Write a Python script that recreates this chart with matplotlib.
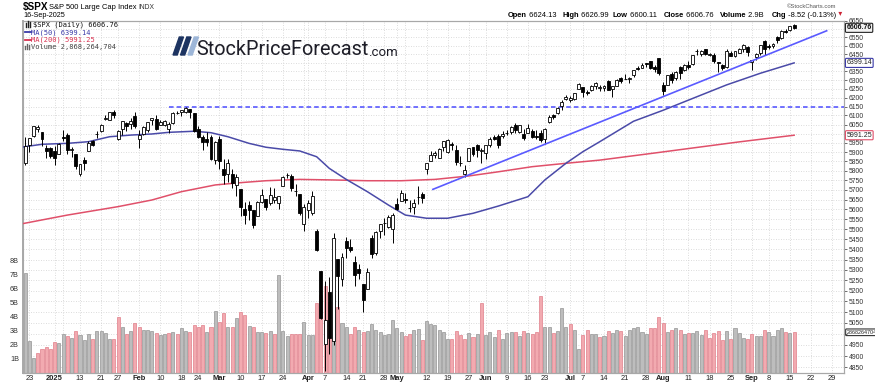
import matplotlib
matplotlib.use("Agg")
import matplotlib.pyplot as plt
import matplotlib.transforms as mtransforms
from matplotlib.patches import Polygon
from matplotlib.lines import Line2D
from matplotlib.ticker import NullLocator
import numpy as np

# ---- data: daily $SPX, index 0 = 19-Dec-2024 ... 183 = 16-Sep-2025 ----
opens = [
    5912.7, 5842.0, 5940.3, 5984.6, 6024.9, 6006.2, 5920.7, 5919.7,
    5903.3, 5891.1, 5982.8, 5993.3, 5910.7, 5890.7, 5782.3, 5859.4, 5905.2, 5961.3, 5995.2, 6014.1,
    6081.4, 6076.3, 6121.4, 5969.0, 6026.0, 6057.7, 6050.8, 6096.8,
    5969.7, 5998.1, 6020.5, 6072.2, 6083.1, 6046.4, 6049.3, 6025.1, 6060.6, 6115.5, 6121.6, 6117.8,
    6134.5, 6114.1, 6026.7, 5982.7, 5970.9, 5981.9, 5856.7,
    5968.3, 5812.0, 5781.4, 5785.9, 5726.0, 5705.4, 5603.7, 5624.8, 5594.5, 5563.9, 5635.6, 5654.5,
    5632.4, 5646.9, 5630.7, 5718.1, 5775.9, 5771.7, 5695.6, 5679.9, 5527.9,
    5597.5, 5580.8, 5492.7, 5292.1, 4953.8, 5193.6, 4965.3, 5353.2, 5255.6, 5442.0, 5412.0, 5335.8,
    5305.5, 5232.9, 5207.7, 5455.8, 5381.4, 5489.7, 5529.2, 5508.9, 5499.4,
    5625.1, 5645.0, 5655.3, 5606.4, 5614.4, 5663.8, 5679.6, 5807.7, 5854.0, 5884.6, 5870.1, 5929.1,
    5902.9, 5944.7, 5910.2, 5841.3, 5781.9, 5854.1, 5925.5, 5939.9, 5903.7,
    5896.7, 5938.6, 5978.9, 5985.7, 5987.1, 6004.6, 6009.9, 6049.4, 6009.9, 5996.7, 6004.0, 6012.4,
    5987.9, 6004.4, 5969.7, 6061.2, 6104.3, 6112.1, 6150.7, 6193.4,
    6187.3, 6193.3, 6246.5, 6259.0, 6233.0, 6245.1, 6266.5, 6255.7, 6255.2, 6295.3, 6250.9, 6263.4,
    6309.6, 6304.7, 6306.6, 6326.9, 6368.6, 6370.0, 6397.7, 6409.4, 6377.6, 6427.0,
    6271.7, 6271.7, 6336.0, 6309.0, 6374.0, 6357.3, 6389.7, 6395.2, 6466.9, 6453.9, 6478.9, 6445.0,
    6446.6, 6404.8, 6386.7, 6375.6, 6457.7, 6440.0, 6457.2, 6483.3, 6494.9,
    6401.5, 6436.2, 6456.6, 6529.6, 6499.5, 6500.6, 6550.2, 6547.1, 6590.2, 6594.9, 6624.1,
]
highs = [
    5935.5, 5982.1, 5978.3, 6040.1, 6049.8, 6006.2, 5940.8, 5929.7,
    5935.1, 5949.3, 6021.0, 6000.7, 5927.9, 5890.7, 5838.8, 5871.9, 5960.6, 5964.7, 6014.0, 6051.5,
    6100.8, 6118.7, 6128.2, 6017.2, 6069.1, 6062.8, 6086.6, 6120.9,
    6022.1, 6042.5, 6062.9, 6084.0, 6101.3, 6073.4, 6076.3, 6063.0, 6116.9, 6127.5, 6129.6, 6147.4,
    6134.5, 6114.8, 6043.7, 5992.7, 6009.8, 5993.7, 5959.4,
    5986.1, 5865.1, 5860.6, 5812.1, 5783.0, 5705.4, 5636.3, 5642.2, 5597.8, 5645.3, 5703.5, 5654.5,
    5715.3, 5711.2, 5670.8, 5775.1, 5786.0, 5783.6, 5732.3, 5679.9, 5627.6,
    5650.6, 5695.3, 5499.5, 5292.1, 5246.7, 5267.5, 5481.3, 5353.2, 5381.5, 5459.5, 5450.4, 5367.2,
    5328.3, 5232.9, 5309.6, 5469.7, 5489.4, 5528.1, 5553.7, 5572.0, 5581.8,
    5658.9, 5700.7, 5683.0, 5649.8, 5654.2, 5720.1, 5691.7, 5844.2, 5906.6, 5906.0, 5924.2, 5958.6,
    5968.6, 5953.1, 5939.7, 5878.1, 5829.5, 5924.3, 5929.0, 5943.1, 5922.1,
    5937.4, 5981.4, 5990.5, 5999.7, 6016.9, 6021.3, 6043.0, 6059.4, 6045.4, 6026.2, 6050.8, 6023.3,
    6018.2, 6018.2, 6028.8, 6101.8, 6108.5, 6146.5, 6187.7, 6215.1,
    6210.8, 6227.6, 6284.7, 6262.7, 6242.7, 6269.1, 6290.2, 6269.4, 6272.4, 6302.0, 6265.9, 6304.1,
    6315.6, 6336.1, 6316.1, 6360.6, 6381.3, 6395.8, 6401.1, 6409.4, 6389.7, 6427.0,
    6287.0, 6330.0, 6346.9, 6350.7, 6379.2, 6395.2, 6409.3, 6446.0, 6480.3, 6475.0, 6481.3, 6455.4,
    6456.7, 6404.8, 6393.6, 6481.3, 6466.9, 6468.0, 6486.2, 6508.2, 6495.9,
    6416.6, 6454.3, 6502.5, 6532.7, 6508.4, 6515.4, 6556.0, 6592.9, 6600.2, 6618.3, 6627.0,
]
lows = [
    5866.1, 5832.3, 5902.6, 5981.4, 6007.4, 5932.9, 5869.2, 5868.9,
    5829.5, 5888.7, 5960.0, 5890.7, 5874.8, 5809.8, 5773.3, 5805.9, 5905.2, 5930.1, 5976.3, 6006.9,
    6076.3, 6074.7, 6088.7, 5962.9, 5994.0, 6012.9, 6027.5, 6030.9,
    5923.9, 5990.9, 6007.1, 6046.8, 6020.0, 6044.8, 6042.3, 6003.0, 6051.0, 6107.6, 6099.5, 6111.2,
    6084.6, 6008.6, 5977.8, 5908.5, 5932.7, 5858.8, 5837.7,
    5810.9, 5732.6, 5742.4, 5711.6, 5666.3, 5564.0, 5528.4, 5546.1, 5504.7, 5563.9, 5631.1, 5597.8,
    5622.2, 5632.1, 5603.1, 5718.1, 5763.1, 5695.5, 5670.9, 5572.4, 5488.7,
    5558.5, 5571.5, 5390.8, 5069.9, 4835.0, 4910.4, 4948.4, 5115.3, 5220.8, 5358.0, 5386.4, 5220.8,
    5255.6, 5101.6, 5207.7, 5356.2, 5372.0, 5455.9, 5468.6, 5505.7, 5433.2,
    5597.4, 5644.1, 5634.5, 5589.1, 5578.6, 5626.8, 5635.1, 5781.9, 5853.3, 5868.9, 5867.4, 5907.4,
    5895.7, 5909.3, 5830.3, 5825.8, 5767.4, 5854.1, 5881.4, 5873.8, 5843.7,
    5861.4, 5929.0, 5966.1, 5921.2, 5978.6, 5994.2, 6000.3, 6002.3, 6003.9, 5963.2, 6004.0, 5974.8,
    5971.9, 5952.6, 5943.2, 6059.6, 6080.1, 6107.3, 6132.4, 6186.5,
    6178.0, 6188.3, 6246.5, 6201.9, 6217.3, 6236.2, 6251.6, 6237.6, 6236.6, 6241.6, 6201.6, 6263.4,
    6285.3, 6303.8, 6281.7, 6317.5, 6360.6, 6368.5, 6375.3, 6363.8, 6346.1, 6327.0,
    6212.7, 6271.7, 6284.3, 6302.3, 6307.9, 6352.3, 6364.1, 6385.8, 6445.0, 6441.1, 6447.8, 6437.0,
    6400.2, 6343.9, 6360.7, 6371.0, 6438.9, 6431.7, 6455.5, 6465.6, 6441.2,
    6360.6, 6415.0, 6445.9, 6443.1, 6482.2, 6489.3, 6516.5, 6542.3, 6578.7, 6590.3, 6600.1,
]
closes = [
    5867.1, 5930.9, 5974.1, 6040.0, 6037.6, 5970.8, 5906.9, 5881.6,
    5868.6, 5942.5, 5975.4, 5909.0, 5918.3, 5827.0, 5836.2, 5842.9, 5949.9, 5937.3, 5996.7, 6049.2,
    6086.4, 6118.7, 6101.2, 6012.3, 6067.7, 6039.3, 6071.2, 6040.5,
    5994.6, 6037.9, 6061.5, 6083.6, 6026.0, 6066.4, 6068.5, 6052.0, 6115.1, 6114.6, 6129.6, 6144.2,
    6117.5, 6013.1, 5983.3, 5955.3, 5956.1, 5861.6, 5954.5,
    5849.7, 5778.2, 5842.6, 5738.5, 5770.2, 5614.6, 5572.1, 5599.3, 5521.5, 5638.9, 5675.1, 5614.7,
    5675.3, 5662.9, 5667.6, 5767.6, 5776.7, 5712.2, 5693.3, 5580.9, 5611.9,
    5633.1, 5671.0, 5396.5, 5074.1, 5062.3, 4982.8, 5456.9, 5268.1, 5363.4, 5406.0, 5396.6, 5275.7,
    5282.7, 5158.2, 5287.8, 5375.9, 5484.8, 5525.2, 5528.8, 5560.8, 5569.1,
    5604.1, 5686.7, 5650.4, 5606.9, 5631.3, 5663.9, 5659.9, 5844.2, 5886.6, 5892.6, 5916.9, 5958.4,
    5963.6, 5940.5, 5844.6, 5842.0, 5802.8, 5921.5, 5888.6, 5912.2, 5911.7,
    5935.9, 5970.4, 5970.8, 5939.3, 6000.4, 6005.9, 6038.8, 6022.2, 6045.3, 5977.0, 6033.1, 5982.7,
    5980.9, 5967.8, 6025.2, 6092.2, 6092.1, 6141.0, 6173.1, 6205.0,
    6198.0, 6227.4, 6279.4, 6230.0, 6225.5, 6263.3, 6280.5, 6259.8, 6268.6, 6243.8, 6263.7, 6297.4,
    6296.8, 6305.6, 6309.6, 6358.9, 6363.4, 6388.6, 6389.8, 6370.9, 6362.9, 6339.4,
    6238.0, 6329.9, 6299.2, 6345.1, 6340.0, 6389.5, 6373.5, 6445.8, 6466.6, 6468.5, 6449.8, 6449.2,
    6411.4, 6395.8, 6370.2, 6466.9, 6439.3, 6465.9, 6481.4, 6501.9, 6460.3,
    6415.5, 6448.3, 6502.1, 6481.5, 6495.2, 6512.6, 6532.0, 6587.5, 6584.3, 6615.3, 6606.8,
]
# volume in billions
volume_b = [
    3.1, 7.08, 2.23, 1.0, 1.38, 1.71, 1.85, 1.71,
    2.16, 2.09, 2.76, 2.57, 2.45, 2.95, 2.64, 2.33, 2.71, 2.42, 2.95, 2.99, 2.8, 2.4, 2.4, 3.99,
    3.23, 2.76, 2.99, 3.52,
    3.23, 3.04, 3.06, 2.99, 2.8, 2.64, 2.71, 2.8, 2.87, 2.76, 3.14, 2.95, 2.87, 3.37, 3.23, 3.42,
    2.92, 3.28, 4.37,
    3.59, 4.23, 3.23, 3.23, 3.9, 4.28, 4.09, 3.35, 3.23, 2.9, 2.9, 2.8, 2.95, 2.73, 6.98, 2.95,
    2.57, 2.73, 2.73, 2.71, 3.61,
    2.68, 2.64, 4.94, 5.5, 6.15, 5.0, 5.5, 4.7, 3.5, 3.23, 2.71, 3.23, 3.06, 2.87, 2.99, 3.47,
    3.06, 2.87, 2.64, 2.73, 3.71,
    3.14, 2.9, 2.57, 2.71, 3.06, 3.11, 2.33, 3.68, 3.47, 3.37, 3.06, 2.92, 2.42, 2.42, 2.99, 2.66,
    2.42, 2.8, 2.52, 2.76, 4.96,
    2.64, 2.9, 2.54, 3.06, 2.42, 2.8, 2.9, 2.92, 2.6, 2.95, 2.8, 2.73, 2.9, 5.44, 3.21, 3.25,
    2.8, 2.95, 4.61, 3.23,
    3.47, 3.04, 1.71, 2.64, 3.04, 2.71, 2.71, 2.52, 2.59, 2.99, 2.83, 3.04, 2.99, 2.59, 3.04, 3.14,
    3.23, 2.87, 2.76, 3.14, 3.18, 3.94,
    3.52, 2.9, 3.04, 3.18, 3.04, 2.71, 2.8, 2.8, 2.99, 2.68, 3.04, 2.47, 2.85, 2.95, 2.3, 2.95,
    2.38, 3.14, 2.83, 2.49, 2.42,
    2.76, 2.61, 2.57, 3.04, 2.9, 2.57, 3.04, 3.14, 2.87, 2.8, 2.868,
]

# moving averages (day index, value)
ma50_idx = [0, 5, 11, 16, 21, 26, 31, 35, 41, 45, 49, 54, 58, 62, 66, 70, 73, 77, 82, 87, 91, 96,
            101, 107, 113, 120, 124, 129, 133, 137, 145, 152, 160, 167, 175, 183]
ma50_val = [5926, 5942, 5947, 5956, 5983, 5992, 5998, 6007, 6013, 6005, 5983, 5947, 5926, 5915,
            5906, 5875, 5813, 5755, 5691, 5622, 5571, 5555, 5555, 5580, 5617, 5665, 5752, 5840,
            5902, 5956, 6068, 6129, 6205, 6272, 6339, 6399.14]
ma200_idx = [0, 11, 23, 31, 38, 46, 52, 58, 66, 74, 82, 90, 98, 106, 113, 121, 129, 137, 150,
             160, 170, 183]
ma200_val = [5526, 5571, 5614, 5648, 5691, 5726, 5738, 5748, 5755, 5752, 5748, 5748, 5755, 5773,
             5795, 5822, 5840, 5857, 5895, 5925, 5955, 5991.25]

# annotations drawn on the chart
trend_x = [97.5, 190.7]
trend_y = [5703, 6589]
resist_start = 35
resist_level = 6147.43

tick_idx = [2, 8, 14, 19, 23, 28, 33, 38, 42, 47, 52, 57, 62, 68, 72, 77, 81, 86, 89, 96, 101,
            106, 110, 115, 120, 124, 130, 133, 138, 143, 148, 152, 158, 163, 168, 173, 177, 182,
            187, 192]
tick_lbl = ['23', '2025', '13', '21', '27', 'Feb', '10', '18', '24', 'Mar', '10', '17', '24',
            'Apr', '7', '14', '21', '28', 'May', '12', '19', '27', 'Jun', '9', '16', '23', 'Jul',
            '7', '14', '21', '28', 'Aug', '11', '18', '25', 'Sep', '8', '15', '22', '29']
extra_grid_idx = [10, 67, 91]

ohlc_head = [('Open', '6624.13', 508), ('High', '6626.99', 562.7), ('Low', '6600.11', 612.7),
             ('Close', '6606.76', 664), ('Volume', '2.9B', 720), ('Chg', '-8.52 (-0.13%)', 771.7)]

W, H = 875, 385
FONT = 'Liberation Sans'


def fx(x):
    return x / W


def fy(y):
    return 1 - y / H


fig = plt.figure(figsize=(W / 100, H / 100), dpi=100)
fig.patch.set_facecolor('white')

left, right, top, bottom = 22.5, 844, 20.5, 372.5
rect = [fx(left), fy(bottom), fx(right) - fx(left), fy(top) - fy(bottom)]
axv = fig.add_axes(rect)
ax = fig.add_axes(rect, sharex=axv)
ax.patch.set_alpha(0)

n = len(closes)
idx = np.arange(n)
o = np.array(opens)
h = np.array(highs)
l = np.array(lows)
c = np.array(closes)

xmin, xmax = 0.39, 194.8
ymin, ymax = 4827, 6651
ax.set_yscale('log')
ax.set_ylim(ymin, ymax)
axv.set_xlim(xmin, xmax)
vmax = 25.1
axv.set_ylim(0, vmax)

# grid (on the bottom axes so bars sit on top of it)
grid_levels = np.arange(4850, 6651, 50)
price_tr = mtransforms.blended_transform_factory(axv.transAxes, ax.transData)
for lev in grid_levels:
    axv.plot([0, 1], [lev, lev], transform=price_tr, color='#d0d0d0', lw=0.6,
             ls=(0, (1, 2)), zorder=0)
for xi in list(tick_idx) + extra_grid_idx:
    axv.axvline(xi, color='#d0d0d0', lw=0.6, ls=(0, (1, 2)), zorder=0)

# volume
prev = np.concatenate([[c[0] + 1], c[:-1]])
down = c < prev
vfill = np.where(down, '#f2aab0', '#bdbdbd')
vedge = np.where(down, '#e07f8a', '#959595')
axv.bar(idx, volume_b, width=0.72, color=vfill, edgecolor=vedge, linewidth=0.5, zorder=2)

# candles
ax.vlines(idx, l, h, color='black', lw=0.7, zorder=4)
body_lo = np.minimum(o, c)
body_h = np.maximum(np.abs(c - o), 0.8)
fill = np.where(c < o, 'black', 'white')
ax.bar(idx, body_h, bottom=body_lo, width=0.7, color=fill, edgecolor='black',
       linewidth=0.6, zorder=5)

# moving averages and lines
ax.plot(ma200_idx, ma200_val, color='#e0506a', lw=1.1, zorder=3)
ax.plot(ma50_idx, ma50_val, color='#4a4aa8', lw=1.1, zorder=3)
ax.plot(trend_x, trend_y, color='#5a5aff', lw=1.2, zorder=6)
ax.plot([resist_start, xmax], [resist_level, resist_level], color='#4b4bff', lw=1.1,
        ls=(0, (3, 2)), zorder=3)

# axes styling
for a in (ax, axv):
    for s in a.spines.values():
        s.set_color('#a8a8a8')
        s.set_linewidth(0.8)
ax.spines['left'].set_linewidth(1.4)

ax.yaxis.tick_right()
ax.set_yticks(grid_levels)
hidden = {6600, 6400, 6000, 5000}
ax.set_yticklabels(['' if v in hidden else str(v) for v in grid_levels])
ax.yaxis.set_minor_locator(NullLocator())
ax.tick_params(axis='y', which='major', length=2, width=0.5, pad=1.2, labelsize=4.9,
               colors='#333333')
for t in ax.get_yticklabels():
    t.set_fontfamily(FONT)

axv.set_yticks([1, 2, 3, 4, 5, 6, 7, 8])
axv.set_yticklabels([f'{k}B' for k in range(1, 9)])
axv.yaxis.tick_left()
axv.tick_params(axis='y', length=0, pad=2.5, labelsize=5.2, colors='#333333')
for t in axv.get_yticklabels():
    t.set_fontfamily(FONT)

axv.set_xticks(tick_idx)
axv.set_xticklabels(tick_lbl)
axv.tick_params(axis='x', length=0, pad=2, labelsize=5.4, colors='#222222')
for t in axv.get_xticklabels():
    t.set_fontfamily(FONT)
    if not t.get_text().isdigit() or t.get_text() == '2025':
        t.set_fontweight('bold')
plt.setp(ax.get_xticklabels(), visible=False)
ax.tick_params(axis='x', length=0)

# right-side value tags
tag_kw = dict(fontsize=5.0, family=FONT, va='center', ha='left', zorder=10, clip_on=False)
ax.text(1.003, closes[-1], '6606.76', transform=price_tr, color='#111111',
        fontweight='bold',
        bbox=dict(boxstyle='round,pad=0.15', fc='#f2f2f2', ec='#222222', lw=0.8), **tag_kw)
ax.text(1.003, ma50_val[-1], f'{ma50_val[-1]:.2f}', transform=price_tr, color='#222222',
        bbox=dict(boxstyle='round,pad=0.15', fc='white', ec='#3a3aa8', lw=0.8), **tag_kw)
ax.text(1.003, ma200_val[-1], f'{ma200_val[-1]:.2f}', transform=price_tr, color='#222222',
        bbox=dict(boxstyle='round,pad=0.15', fc='white', ec='#e0506a', lw=0.8), **tag_kw)
vol_tr = mtransforms.blended_transform_factory(axv.transAxes, axv.transData)
vkw = dict(tag_kw)
vkw['fontsize'] = 3.9
axv.text(1.003, volume_b[-1], '2868264704', transform=vol_tr, color='#222222',
         bbox=dict(boxstyle='round,pad=0.15', fc='white', ec='#333333', lw=0.8), **vkw)

# header
fig.text(fx(23), fy(7), '$SPX', fontsize=7.2, fontweight='bold', family=FONT, va='center')
fig.text(fx(49), fy(7.3), 'S&P 500 Large Cap Index', fontsize=5.4, family=FONT, va='center')
fig.text(fx(138.5), fy(7.3), 'INDX', fontsize=4.9, family=FONT, va='center', color='#333333')
fig.text(fx(23), fy(15.7), '16-Sep-2025', fontsize=5.2, family=FONT, va='center')
fig.text(fx(836), fy(6), '\u00a9StockCharts.com', fontsize=4.2, family=FONT, va='center',
         ha='right', color='#555555')

for lab, val, xpos in ohlc_head:
    t = fig.text(fx(xpos), fy(15.7), lab, fontsize=5.4, fontweight='bold', family=FONT,
                 va='center')
    t = ax.annotate(' ' + val, xy=(1, 0), xycoords=t, va='bottom', ha='left', fontsize=5.4,
                    family=FONT, annotation_clip=False)
ax.annotate(' \u25be', xy=(1, 0.1), xycoords=t, va='bottom', ha='left', fontsize=5.5,
            color='#cc2233', family='DejaVu Sans', annotation_clip=False)

# legend block in the plot
leg_font = dict(fontsize=5.0, family='DejaVu Sans Mono', va='center')
fig.text(fx(33), fy(25.2), '$SPX (Daily) 6606.76', color='#111111', **leg_font)
fig.text(fx(31), fy(32.4), 'MA(50) 6399.14', color='#3a3aa8', **leg_font)
fig.text(fx(31), fy(39.8), 'MA(200) 5991.25', color='#d8304f', **leg_font)
fig.text(fx(31), fy(47.3), 'Volume 2,868,264,704', color='#444444', **leg_font)
for yy, col in [(32.4, '#3a3aa8'), (39.8, '#d8304f')]:
    fig.add_artist(Line2D([fx(24.5), fx(30.5)], [fy(yy), fy(yy)], color=col, lw=1.3))
for k, hh in enumerate([4, 6, 5]):
    xx = 25.5 + k * 2
    fig.add_artist(Line2D([fx(xx), fx(xx)], [fy(27.3), fy(27.3 - hh)], color='#222222', lw=1.0))
for k, hh in enumerate([3, 5, 4]):
    xx = 25 + k * 2
    fig.add_artist(Line2D([fx(xx), fx(xx)], [fy(49.3), fy(49.3 - hh)], color='#666666', lw=1.0))

# logo
for k, col in enumerate(['#1d3461', '#1d3461', '#9db6d8']):
    x0 = 173 + k * 7.5
    pts = [(fx(x0), fy(55)), (fx(x0 + 4.2), fy(55)), (fx(x0 + 10.5), fy(37)), (fx(x0 + 6.3), fy(37))]
    fig.add_artist(Polygon(pts, closed=True, color=col, transform=fig.transFigure))
logo = fig.text(fx(196), fy(55), 'StockPriceForecast', fontsize=14.3, family='Roboto',
                color='#1e1e28', va='baseline')
ax.annotate('.com', xy=(1, 0), xycoords=logo, va='bottom', ha='left', fontsize=9.5,
            family='Roboto', color='#1e1e28', annotation_clip=False)

fig.savefig('out.png', dpi=100)
